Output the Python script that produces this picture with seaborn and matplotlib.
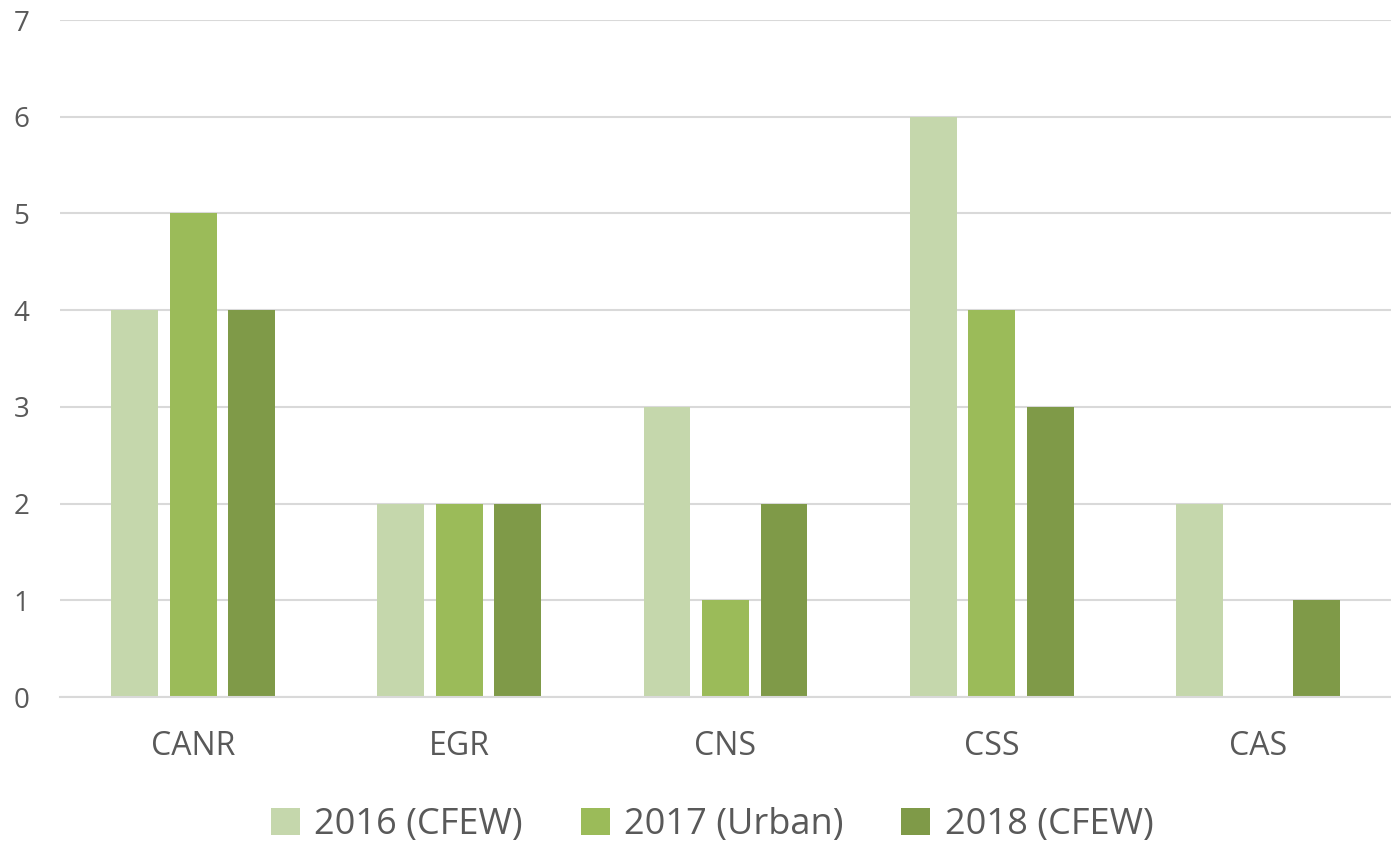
import pandas as pd
import matplotlib.pyplot as plt
import seaborn as sns

# Chart data
colleges = ['CANR', 'EGR', 'CNS', 'CSS', 'CAS']
series_names = ['2016 (CFEW)', '2017 (Urban)', '2018 (CFEW)']
vals_2016 = [4, 2, 3, 6, 2]
vals_2017 = [5, 2, 1, 4, 0]
vals_2018 = [4, 2, 2, 3, 1]
colors = ['#C5D7AC', '#9BBB59', '#7F9A48']

df = pd.DataFrame({
    'College': colleges * 3,
    'Series': [series_names[0]] * 5 + [series_names[1]] * 5 + [series_names[2]] * 5,
    'Count': vals_2016 + vals_2017 + vals_2018,
})

sns.set_style('white')
plt.rcParams['font.family'] = ['Open Sans', 'DejaVu Sans']
text_color = '#595959'

fig = plt.figure(figsize=(13.91, 8.47), dpi=100)
ax = fig.add_axes([60 / 1391, 1 - 697 / 847, 1331 / 1391, (697 - 20) / 847])

sns.barplot(data=df, x='College', y='Count', hue='Series', palette=colors,
            width=0.66, gap=0.2, saturation=1, linewidth=0, ax=ax, legend=True)

ax.set_ylim(0, 7)
ax.set_xlim(-0.5, 4.5)
ax.set_yticks(range(0, 8))
ax.yaxis.grid(True, color='#D9D9D9', linewidth=1.5)
ax.set_axisbelow(True)
for side in ['top', 'right', 'left']:
    ax.spines[side].set_visible(False)
ax.spines['bottom'].set_color('#D9D9D9')
ax.spines['bottom'].set_linewidth(1.5)
ax.set_xlabel('')
ax.set_ylabel('')
ax.tick_params(axis='x', length=0, pad=24, labelsize=23, labelcolor=text_color)
ax.tick_params(axis='y', length=0, pad=22, labelsize=20, labelcolor=text_color)

handles, labels = ax.get_legend_handles_labels()
ax.get_legend().remove()
fig.legend(handles, labels, loc='center', bbox_to_anchor=(0.512, 1 - 825 / 847),
           ncol=3, frameon=False, fontsize=26, labelcolor=text_color,
           handlelength=0.8, handleheight=0.8, handletextpad=0.4, columnspacing=1.6)

fig.savefig('out.png', dpi=100)
